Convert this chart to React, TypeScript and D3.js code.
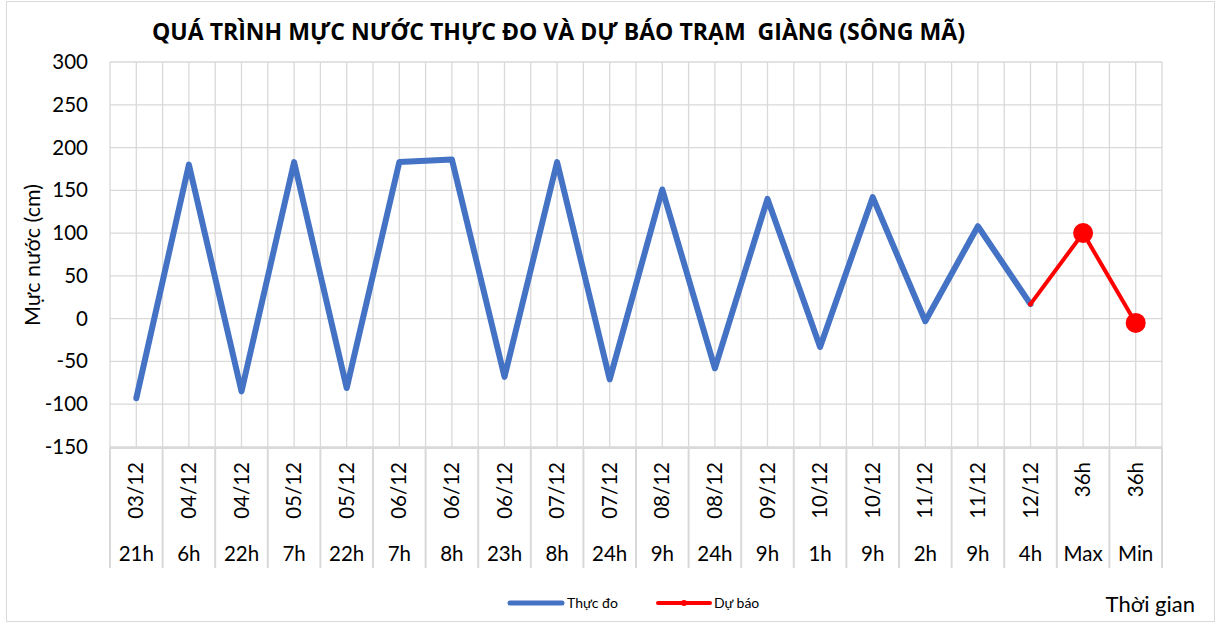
import React from "react";
import * as d3 from "d3";

// category labels (two levels, date on top rotated, hour below)
const dates = ["03/12", "04/12", "04/12", "05/12", "05/12", "06/12", "06/12", "06/12", "07/12", "07/12",
  "08/12", "08/12", "09/12", "10/12", "10/12", "11/12", "11/12", "12/12", "36h", "36h"];
const hours = ["21h", "6h", "22h", "7h", "22h", "7h", "8h", "23h", "8h", "24h",
  "9h", "24h", "9h", "1h", "9h", "2h", "9h", "4h", "Max", "Min"];

// water level values (cm)
const measured = [-93, 180, -85, 183, -81, 183, 186, -68, 183, -71, 151, -58, 140, -33, 142, -3, 108, 17];
const forecast = [null, null, null, null, null, null, null, null, null, null,
  null, null, null, null, null, null, null, 17, 100, -5];

const yTicks = [-150, -100, -50, 0, 50, 100, 150, 200, 250, 300];

const W = 1219;
const H = 625;
const margin = { top: 62, right: 57, bottom: 178, left: 110 };
const FONT = "Lato, 'Liberation Sans', sans-serif";

export default function App() {
  const x = d3
    .scaleBand<number>()
    .domain(d3.range(dates.length))
    .range([margin.left, W - margin.right])
    .padding(0);
  const bw = x.bandwidth();
  const cx = (i: number) => (x(i) as number) + bw / 2;

  const y = d3
    .scaleLinear()
    .domain([-150, 300])
    .range([H - margin.bottom, margin.top]);

  const plotBottom = y(-150);
  const plotTop = y(300);

  const line = d3
    .line<number | null>()
    .defined(d => d != null)
    .x((d, i) => cx(i))
    .y(d => y(d as number));

  // vertical grid: category centres and boundaries
  const vGrid: number[] = [];
  for (let i = 0; i <= dates.length; i++) {
    vGrid.push(margin.left + i * bw);
    if (i < dates.length) vGrid.push(cx(i));
  }

  const legendY = 603;

  return (
    <svg width={W} height={H} style={{ position: "absolute", left: 0, top: 0, background: "#fff" }} fontFamily={FONT}>
      <rect x={6.5} y={1.5} width={1208} height={620} fill="#fff" stroke="#d9d9d9" />

      <text x={152} y={40} fontSize={23} fontWeight="bold" fill="#000"
        fontFamily="'Open Sans', sans-serif" textLength={813} lengthAdjust="spacingAndGlyphs"
        style={{ whiteSpace: "pre" }}>
        QUÁ TRÌNH MỰC NƯỚC THỰC ĐO VÀ DỰ BÁO TRẠM  GIÀNG (SÔNG MÃ)
      </text>

      {/* grid */}
      {yTicks.map(t => (
        <line key={"h" + t} x1={margin.left} x2={W - margin.right} y1={y(t)} y2={y(t)} stroke="#d9d9d9" strokeWidth={1.3} />
      ))}
      {vGrid.map((gx, i) => (
        <line key={"v" + i} x1={gx} x2={gx} y1={plotTop} y2={plotBottom} stroke="#d9d9d9" strokeWidth={1.3} />
      ))}

      {/* category axis table */}
      <line x1={margin.left} x2={W - margin.right} y1={plotBottom + 1} y2={plotBottom + 1} stroke="#d9d9d9" strokeWidth={2} />
      {d3.range(dates.length + 1).map(i => (
        <line key={"s" + i} x1={margin.left + i * bw} x2={margin.left + i * bw} y1={plotBottom} y2={568} stroke="#d9d9d9" strokeWidth={2} />
      ))}
      {dates.map((d, i) => (
        <text key={"d" + i} transform={`translate(${cx(i) + 7},462) rotate(-90)`} textAnchor="end" fontSize={20.5} fill="#000">
          {d}
        </text>
      ))}
      {hours.map((h, i) => (
        <text key={"hr" + i} x={cx(i)} y={561} textAnchor="middle" fontSize={20.5} fill="#000">
          {h}
        </text>
      ))}

      {/* y axis */}
      {yTicks.map(t => (
        <text key={"t" + t} x={88} y={y(t) + 7} textAnchor="end" fontSize={20.5} fill="#000">
          {t}
        </text>
      ))}
      <text transform={`translate(40,255) rotate(-90)`} textAnchor="middle" fontSize={21.5} fill="#000">
        Mực nước (cm)
      </text>

      {/* series */}
      <path d={line(measured) || ""} fill="none" stroke="#4472C4" strokeWidth={6} strokeLinejoin="round" strokeLinecap="round" />
      <path d={line(forecast) || ""} fill="none" stroke="#FF0000" strokeWidth={4} strokeLinejoin="round" />
      {forecast.map((v, i) =>
        v == null ? null : (
          <circle key={"m" + i} cx={cx(i)} cy={y(v)} r={i === 17 ? 2.5 : 10} fill="#FF0000" />
        )
      )}

      {/* legend */}
      <line x1={510} x2={562} y1={legendY} y2={legendY} stroke="#4472C4" strokeWidth={5} strokeLinecap="round" />
      <text x={567} y={legendY + 5} fontSize={14} fill="#000">Thực đo</text>
      <line x1={658} x2={710} y1={legendY} y2={legendY} stroke="#FF0000" strokeWidth={4} strokeLinecap="round" />
      <circle cx={684} cy={legendY} r={3} fill="#FF0000" />
      <text x={714} y={legendY + 5} fontSize={14} fill="#000">Dự báo</text>

      <text x={1195} y={612} textAnchor="end" fontSize={22} fill="#000">Thời gian</text>
    </svg>
  );
}
